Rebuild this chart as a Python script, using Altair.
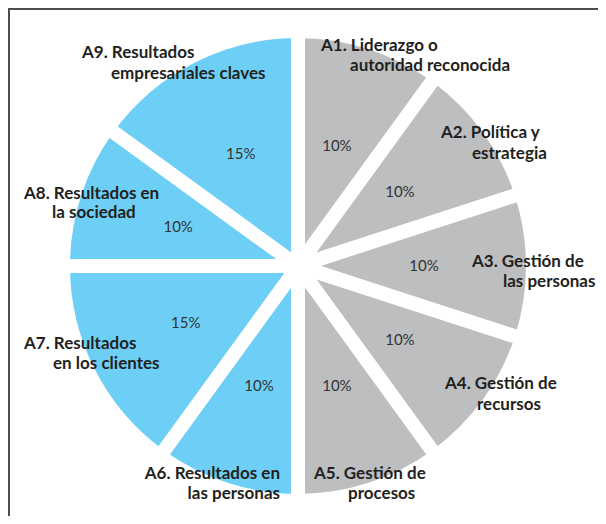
import altair as alt
import pandas as pd

# ---- data ----
categories = ["A1", "A2", "A3", "A4", "A5", "A6", "A7", "A8", "A9"]
label_line1 = ["A1. Liderazgo o", "A2. Política y", "A3. Gestión de", "A4. Gestión de",
               "A5. Gestión de", "A6. Resultados en", "A7. Resultados",
               "A8. Resultados en", "A9. Resultados"]
label_line2 = ["autoridad reconocida", "estrategia", "las personas", "recursos",
               "procesos", "las personas", "en los clientes", "la sociedad",
               "empresariales claves"]
shares = [10, 10, 10, 10, 10, 10, 15, 10, 15]
groups = ["agentes"] * 5 + ["resultados"] * 4

# ---- layout (plot-area pixels, not data) ----
W, H = 590, 508
CX, CY = 290, 258
R = 228
GAP = 14
line1_x = [313, 433, 464, 437, 306, 272, 16, 16, 74]
line2_x = [342, 464, 495, 469, 340, 272, 45, 44, 103]
line1_y = [38, 125, 254, 376, 466, 466, 336, 186, 45]
line2_y = [58, 146, 274, 397, 486, 486, 356, 205, 66]
aligns = ["left"] * 5 + ["right"] + ["left"] * 3

df = pd.DataFrame({
    "cat": categories,
    "share": shares,
    "group": groups,
    "idx": list(range(len(categories))),
    "pct": [f"{v}%" for v in shares],
})

rows = []
for i in range(len(categories)):
    rows.append({"text": label_line1[i], "x": line1_x[i], "y": line1_y[i], "align": aligns[i]})
    rows.append({"text": label_line2[i], "x": line2_x[i], "y": line2_y[i], "align": aligns[i]})
lab = pd.DataFrame(rows)

pie = alt.Chart(df).mark_arc(
    outerRadius=R + GAP / 2, stroke="white", strokeWidth=GAP
).encode(
    theta=alt.Theta("share:Q", stack=True),
    order=alt.Order("idx:Q"),
    color=alt.Color("group:N",
                    scale=alt.Scale(domain=["agentes", "resultados"],
                                    range=["#bcbec0", "#6dcff6"]),
                    legend=None),
    x=alt.value(CX),
    y=alt.value(CY),
)

pct = alt.Chart(df).mark_text(
    radius=126, fontSize=15, font="Lato", color="#333333"
).encode(
    theta=alt.Theta("share:Q", stack=True),
    order=alt.Order("idx:Q"),
    text="pct:N",
    x=alt.value(CX),
    y=alt.value(CY),
)

def labels(al):
    return alt.Chart(lab[lab["align"] == al]).mark_text(
        align=al, baseline="middle", fontSize=17, fontWeight="bold",
        font="Lato", color="#231f20"
    ).encode(
        x=alt.X("x:Q", scale=None),
        y=alt.Y("y:Q", scale=None),
        text="text:N",
    )

frame_df = pd.DataFrame({"k": [0]})
frame_left = alt.Chart(frame_df).mark_rule(color="#4d4d4d", strokeWidth=2).encode(
    x=alt.value(1), y=alt.value(0), y2=alt.value(H))
frame_top = alt.Chart(frame_df).mark_rule(color="#4d4d4d", strokeWidth=2).encode(
    y=alt.value(1), x=alt.value(0), x2=alt.value(W))

chart = alt.layer(pie, pct, labels("left"), labels("right"), frame_left, frame_top).properties(
    width=W, height=H, padding=0, autosize="none"
).configure_view(stroke=None)

chart.save("out.html", embed_options={"renderer": "svg", "actions": False})
